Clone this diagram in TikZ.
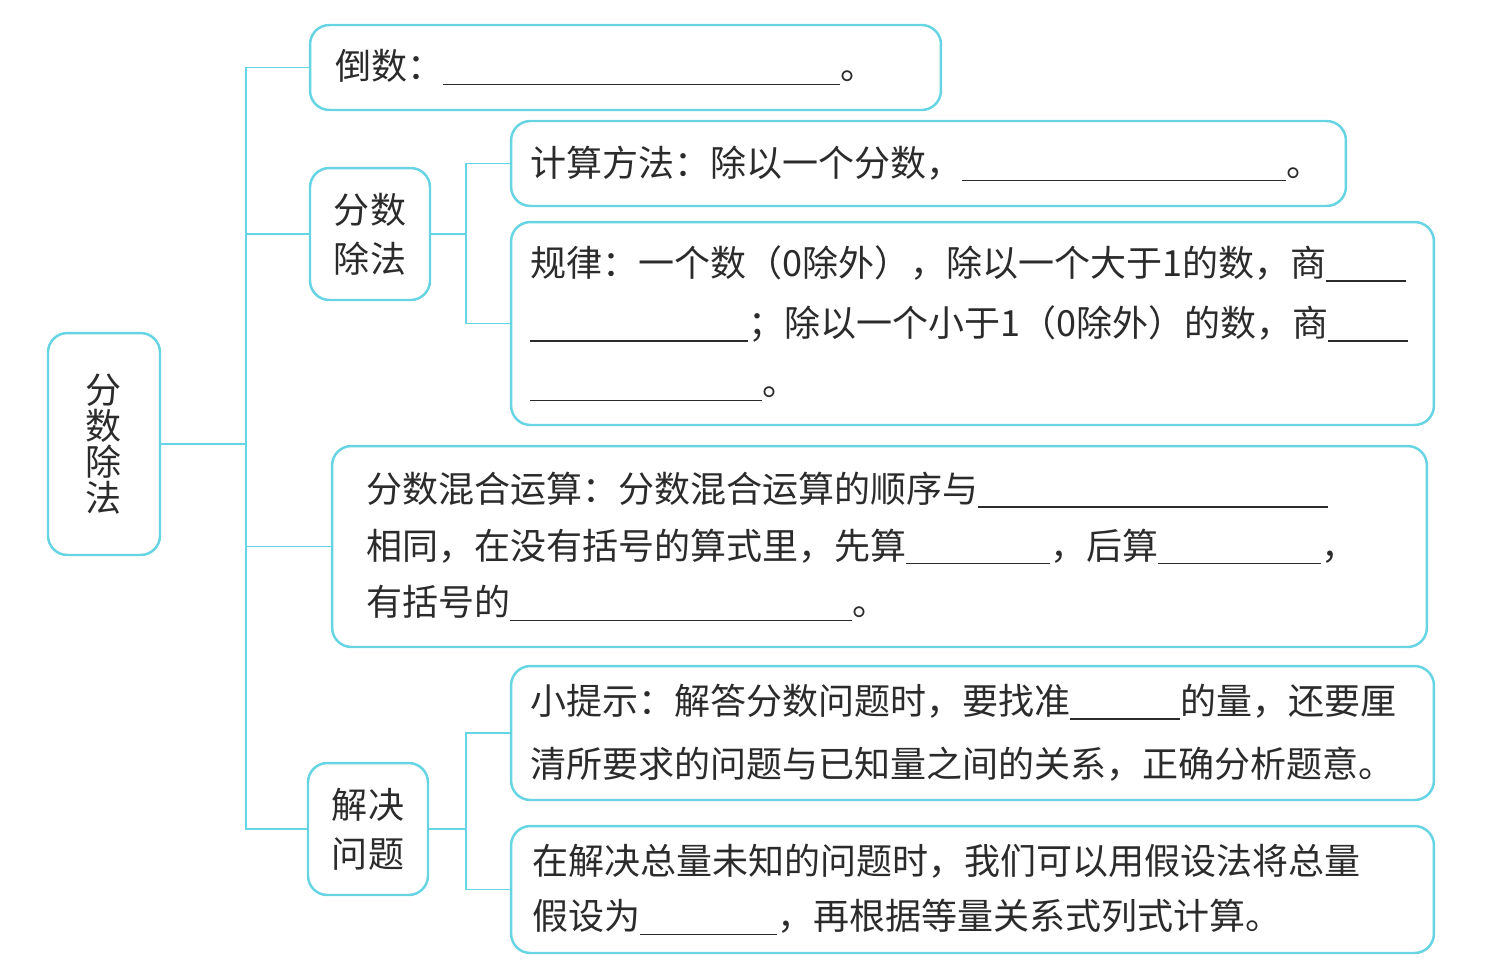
\documentclass[tikz,border=0pt]{standalone}
\usepackage{fontspec}
\setmainfont{Noto Sans CJK SC}
\usepackage{tikz}
\usetikzlibrary{positioning}
\definecolor{mapblue}{HTML}{66D4E2}
\definecolor{ink}{HTML}{2B2B2B}
\newcommand{\blank}[1]{\rule[-0.15em]{#1}{0.9pt}}

\begin{document}
\begin{tikzpicture}[x=0.02cm, y=-0.02cm,
    topic/.style={rectangle, draw=mapblue, fill=white, text=ink,
                  rounded corners=11pt, line width=1.4pt,
                  align=center, inner sep=0pt},
    leaf/.style={rectangle, draw=mapblue, fill=white, text=ink,
                 rounded corners=11pt, line width=1.4pt,
                 align=left, inner ysep=0pt},
    link/.style={draw=mapblue, line width=1.1pt},
]
\useasboundingbox (0,0) rectangle (1490,971);

\node[topic, minimum width=2.24cm, minimum height=4.44cm,
      font={\fontsize{20.5}{20.5}\selectfont}] (root) at (104,444) {分\\数\\除\\法};

\node[leaf, inner xsep=0.5cm, text width=11.62cm, minimum height=1.7cm,
      font={\fontsize{20.5}{32}\selectfont}] (recip) at (625.5,67.5) {倒数：\blank{7.94cm}。};
\node[topic, minimum width=2.4cm, minimum height=2.64cm,
      font={\fontsize{20.5}{28}\selectfont}] (divbox) at (370,234) {分数\\除法};
\node[leaf, inner xsep=0.38cm, text width=15.94cm, minimum height=1.7cm,
      font={\fontsize{20.5}{32}\selectfont}] (calc) at (928.5,163.5) {计算方法：除以一个分数，\blank{6.48cm}。};
\node[leaf, inner xsep=0.38cm, text width=17.7cm, minimum height=4.06cm,
      font={\fontsize{20.5}{34}\selectfont}] (rule) at (972.5,323.5)
      {规律：一个数（0除外），除以一个大于1的数，商\blank{1.6cm}\\
       \blank{4.36cm}；除以一个小于1（0除外）的数，商\blank{1.6cm}\\
       \blank{4.64cm}。};
\node[leaf, inner xsep=0.68cm, text width=20.54cm, minimum height=4.02cm,
      font={\fontsize{20.5}{32.4}\selectfont}] (mixed) at (879.5,546.5)
      {分数混合运算：分数混合运算的顺序与\blank{7cm}\\
       相同，在没有括号的算式里，先算\blank{2.88cm}，后算\blank{3.26cm}，\\
       有括号的\blank{6.84cm}。};
\node[topic, minimum width=2.4cm, minimum height=2.64cm,
      font={\fontsize{20.5}{28}\selectfont}] (solve) at (368,829) {解决\\问题};
\node[leaf, inner xsep=0.38cm, text width=17.7cm, minimum height=2.68cm,
      font={\fontsize{20.5}{36}\selectfont}] (tip) at (972.5,733)
      {小提示：解答分数问题时，要找准\blank{2.2cm}的量，还要厘\\
       清所要求的问题与已知量之间的关系，正确分析题意。};
\node[leaf, inner xsep=0.42cm, text width=17.62cm, minimum height=2.54cm,
      font={\fontsize{20.5}{31.5}\selectfont}] (assume) at (972.5,889.5)
      {在解决总量未知的问题时，我们可以用假设法将总量\\
       假设为\blank{2.74cm}，再根据等量关系式列式计算。};

\coordinate (trunk) at (246,444);
\coordinate (divfork) at (466,234);
\coordinate (solvefork) at (466,829);

\draw[link] (root.east) -- (trunk |- root.east);
\foreach \n in {recip,divbox,mixed,solve}
  \draw[link] (\n.west) -| (trunk |- root.east);
\draw[link] (divbox.east) -- (divfork);
\foreach \n in {calc,rule}
  \draw[link] (\n.west) -| (divfork);
\draw[link] (solve.east) -- (solvefork);
\foreach \n in {tip,assume}
  \draw[link] (\n.west) -| (solvefork);
\end{tikzpicture}
\end{document}
